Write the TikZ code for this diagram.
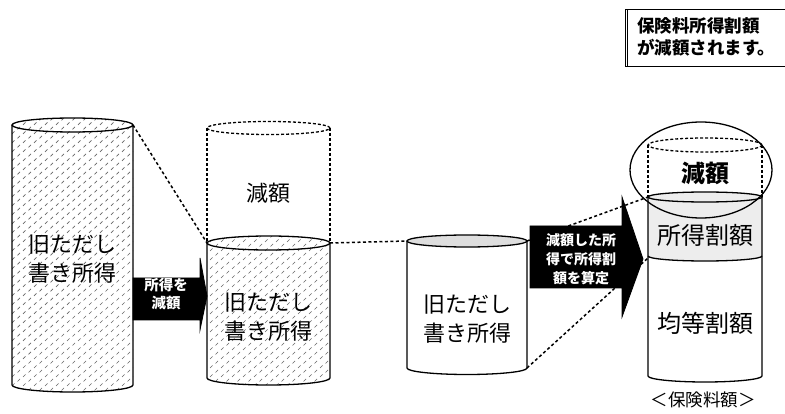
\documentclass[tikz,border=0pt]{standalone}
\usepackage{fontspec}
\newfontfamily\cjk{Noto Sans CJK JP}
\usetikzlibrary{patterns}
\pgfdeclarepatternformonly{slashes}{\pgfqpoint{-1pt}{-1pt}}{\pgfqpoint{12pt}{10pt}}{\pgfqpoint{11pt}{9pt}}{%
  \pgfsetlinewidth{0.7pt}%
  \pgfpathmoveto{\pgfqpoint{1pt}{1pt}}\pgfpathlineto{\pgfqpoint{3.5pt}{3.5pt}}%
  \pgfpathmoveto{\pgfqpoint{6.5pt}{5.5pt}}\pgfpathlineto{\pgfqpoint{9pt}{8pt}}%
  \pgfusepath{stroke}}
\tikzset{
  cyl/.style={draw=black, line width=1.3pt},
  dashline/.style={draw=black, line width=1.3pt, dash pattern=on 3pt off 2pt},
  link/.style={draw=black, line width=1.5pt, dash pattern=on 3pt off 2.5pt},
  slashfill/.style={pattern=slashes, pattern color=black!60},
  lightfill/.style={fill=black!13},
  paleflll/.style={fill=black!7},
  bigtxt/.style={font=\cjk\fontsize{22pt}{29pt}\selectfont, align=center, inner sep=0pt},
  midtxt/.style={font=\cjk\fontsize{24pt}{29pt}\selectfont, align=center, inner sep=0pt},
  arrtxt/.style={font=\cjk\bfseries\fontsize{14.5pt}{18pt}\selectfont, text=white, align=center, inner sep=0pt},
  notetxt/.style={font=\cjk\bfseries\fontsize{17.5pt}{22pt}\selectfont, align=left, inner sep=0pt},
  blackarrow/.style={fill=black, draw=black, line width=0.8pt},
}
\begin{document}
\begin{tikzpicture}[x=1pt,y=1pt]
\useasboundingbox[fill=white] (0,0) rectangle (785,-414);

% ---------- connector end points ----------
\coordinate (c1tr) at (133,-125);
\coordinate (c2l) at (207,-243);
\coordinate (c2r) at (330,-243);
\coordinate (c3l) at (407,-241);
\coordinate (c3tr) at (527,-241);
\coordinate (c3br) at (527,-368);
\coordinate (c4t) at (648,-197);
\coordinate (c4b) at (648,-258);

% ---------- cylinder 1 ----------
\path[slashfill] (12,-125) -- (12,-385) arc[start angle=180,end angle=360,x radius=60.5,y radius=7]
  -- (133,-125) arc[start angle=0,end angle=180,x radius=60.5,y radius=7] -- cycle;
\draw[cyl] (12,-125) -- (12,-385) arc[start angle=180,end angle=360,x radius=60.5,y radius=7] -- (133,-125);
\draw[cyl] (72.5,-125) ellipse[x radius=60.5,y radius=7];
\node[bigtxt] (t1) at (72.5,-259) {旧ただし\\書き所得};

% ---------- cylinder 2 ----------
\draw[dashline] (268.5,-128) ellipse[x radius=61.5,y radius=6.5];
\draw[dashline] (207,-128) -- (207,-243);
\draw[dashline] (330,-128) -- (330,-243);
\path[slashfill] (207,-243) -- (207,-378) arc[start angle=180,end angle=360,x radius=61.5,y radius=7]
  -- (330,-243) arc[start angle=0,end angle=180,x radius=61.5,y radius=7] -- cycle;
\draw[cyl] (207,-243) -- (207,-378) arc[start angle=180,end angle=360,x radius=61.5,y radius=7] -- (330,-243);
\draw[cyl] (268.5,-243) ellipse[x radius=61.5,y radius=7];
\node[bigtxt] (t2a) at (268.5,-193) {減額};
\node[bigtxt] (t2b) at (268.5,-317) {旧ただし\\書き所得};

% ---------- cylinder 3 ----------
\draw[cyl] (407,-241) -- (407,-368) arc[start angle=180,end angle=360,x radius=60,y radius=6.5] -- (527,-241);
\draw[cyl, lightfill] (467,-241) ellipse[x radius=60,y radius=6];
\node[bigtxt] (t3) at (467,-319) {旧ただし\\書き所得};

% ---------- connectors ----------
\draw[link] (c1tr) -- (c2l);
\draw[link] (c2r) -- (c3l);
\draw[link] (c3tr) -- (c4t);
\draw[link] (c3br) -- (c4b);

% ---------- cylinder 4 ----------
\draw[dashline] (705,-145) ellipse[x radius=57,y radius=7];
\draw[dashline] (648,-145) -- (648,-197);
\draw[dashline] (762,-145) -- (762,-197);
\path[paleflll] (648,-197) -- (648,-256) arc[start angle=180,end angle=360,x radius=57,y radius=5]
  -- (762,-197) arc[start angle=0,end angle=180,x radius=57,y radius=5] -- cycle;
\draw[cyl] (648,-197) -- (648,-376) arc[start angle=180,end angle=360,x radius=57,y radius=6] -- (762,-197);
\draw[cyl] (705,-197) ellipse[x radius=57,y radius=5];
\draw[cyl] (648,-256) arc[start angle=180,end angle=360,x radius=57,y radius=5];
\node[midtxt, font=\cjk\bfseries\fontsize{24pt}{29pt}\selectfont] (t4a) at (705,-173) {減額};
\node[midtxt] (t4b) at (705,-235) {所得割額};
\node[midtxt] (t4c) at (705,-323) {均等割額};
\node[font=\cjk\fontsize{17.5pt}{20pt}\selectfont, inner sep=0pt] (t4d) at (703,-400) {＜保険料額＞};
\draw[cyl] (701,-170) ellipse[x radius=71,y radius=48];

% ---------- black arrows ----------
\path[blackarrow] (133,-278) -- (200,-278) -- (200,-258) -- (207,-296) -- (200,-330) -- (200,-320) -- (133,-320) -- cycle;
\node[arrtxt] (a1) at (166,-294) {所得を\\減額};
\path[blackarrow] (530,-226) -- (622,-226) -- (622,-197) -- (643,-259) -- (622,-317) -- (622,-288) -- (530,-288) -- cycle;
\node[arrtxt, font=\cjk\bfseries\fontsize{14pt}{19pt}\selectfont] (a2) at (581,-259) {減額した所\\得で所得割\\額を算定};

% ---------- note box ----------
\node[notetxt, anchor=west] (note) at (637,-37) {保険料所得割額\\が減額されます。};
\draw[line width=1pt] (786,-10) -- (625,-10) -- (625,-67) -- (786,-67);
\draw[line width=1.2pt] (627.5,-10) -- (627.5,-67);
\end{tikzpicture}
\end{document}
